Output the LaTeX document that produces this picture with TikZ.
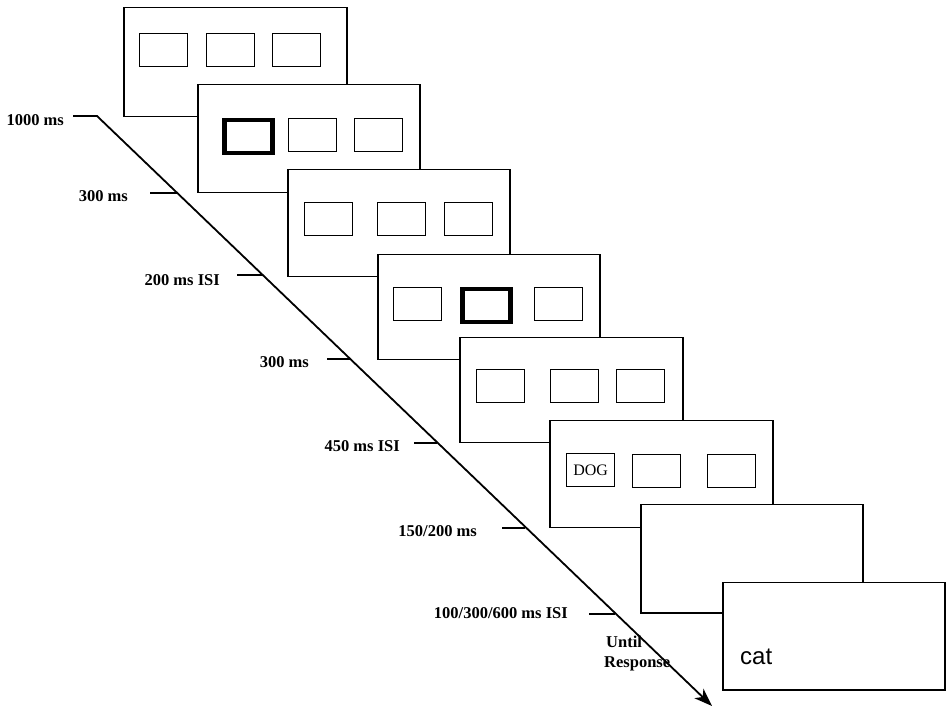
\documentclass[tikz,border=0pt]{standalone}
\usepackage{fontspec}
\setmainfont{Liberation Serif}
\newfontfamily\sansfam{Liberation Sans}
\usetikzlibrary{arrows.meta}
\begin{document}
\begin{tikzpicture}[x=1pt,y=-1pt,
  frame/.style={draw, fill=white, line width=1.5pt, anchor=north west, inner sep=0pt},
  sbox/.style={draw, line width=1.3pt, anchor=north west, inner sep=0pt, minimum width=48pt, minimum height=33pt},
  cuebox/.style={sbox, line width=4.5pt},
  lab/.style={font=\bfseries\fontsize{16.5}{18}\selectfont, inner sep=0pt},
  tickline/.style={line width=1.5pt}
]
\useasboundingbox[fill=white] (0,0) rectangle (946,708);

% timeline
\coordinate (t0) at (73,116);
\coordinate (t1) at (97,116);
\coordinate (tip) at (712,706);
\draw[line width=1.8pt, -{Stealth[length=18pt,width=13pt,inset=5pt]}] (t0) -- (t1) -- (tip);

% ticks
\coordinate (k1s) at (150,193); \coordinate (k1e) at (177,193);
\coordinate (k2s) at (237,275); \coordinate (k2e) at (262,275);
\coordinate (k3s) at (327,359); \coordinate (k3e) at (350,359);
\coordinate (k4s) at (414,443); \coordinate (k4e) at (437,443);
\coordinate (k5s) at (502,528); \coordinate (k5e) at (525,528);
\coordinate (k6s) at (589,614); \coordinate (k6e) at (615,614);
\foreach \i in {1,...,6} \draw[tickline] (k\i s) -- (k\i e);

% labels
\node[lab, anchor=base east] (l0) at (64,126) {1000 ms};
\node[lab, anchor=base east] (l1) at (128,202) {300 ms};
\node[lab, anchor=base east] (l2) at (220,286) {200 ms ISI};
\node[lab, anchor=base east] (l3) at (309,368) {300 ms};
\node[lab, anchor=base east] (l4) at (400,452) {450 ms ISI};
\node[lab, anchor=base east] (l5) at (477,537) {150/200 ms};
\node[lab, anchor=base east] (l6) at (568,618) {100/300/600 ms ISI};
\node[lab, anchor=base west] (l7a) at (606,647) {Until};
\node[lab, anchor=base west] (l7b) at (604,667) {Response};

% frame 1
\node[frame, minimum width=223pt, minimum height=109pt] (f1) at (123,7) {};
\node[sbox] (f1a) at (139,33) {};
\node[sbox] (f1b) at (206,33) {};
\node[sbox] (f1c) at (272,33) {};
% frame 2
\node[frame, minimum width=222pt, minimum height=108pt] (f2) at (197,84) {};
\node[cuebox] (f2a) at (222,118) {};
\node[sbox] (f2b) at (288,118) {};
\node[sbox] (f2c) at (354,118) {};
% frame 3
\node[frame, minimum width=222pt, minimum height=107pt] (f3) at (287,169) {};
\node[sbox] (f3a) at (304,202) {};
\node[sbox] (f3b) at (377,202) {};
\node[sbox] (f3c) at (444,202) {};
% frame 4
\node[frame, minimum width=222pt, minimum height=105pt] (f4) at (377,254) {};
\node[sbox] (f4a) at (393,287) {};
\node[cuebox] (f4b) at (460,287) {};
\node[sbox] (f4c) at (534,287) {};
% frame 5
\node[frame, minimum width=223pt, minimum height=105pt] (f5) at (459,337) {};
\node[sbox] (f5a) at (476,369) {};
\node[sbox] (f5b) at (550,369) {};
\node[sbox] (f5c) at (616,369) {};
% frame 6
\node[frame, minimum width=223pt, minimum height=107pt] (f6) at (549,420) {};
\node[sbox] (f6a) at (566,453) {};
\node[font=\fontsize{16}{18}\selectfont, inner sep=0pt] (dog) at (f6a.center) {DOG};
\node[sbox] (f6b) at (632,454) {};
\node[sbox] (f6c) at (707,454) {};
% frame 7
\node[frame, minimum width=222pt, minimum height=108pt] (f7) at (640,504) {};
% frame 8
\node[frame, minimum width=222pt, minimum height=107pt] (f8) at (722,582) {};
\node[font=\sansfam\fontsize{24}{28}\selectfont, inner sep=0pt, anchor=base west] (cat) at (740,664) {cat};
\end{tikzpicture}
\end{document}
